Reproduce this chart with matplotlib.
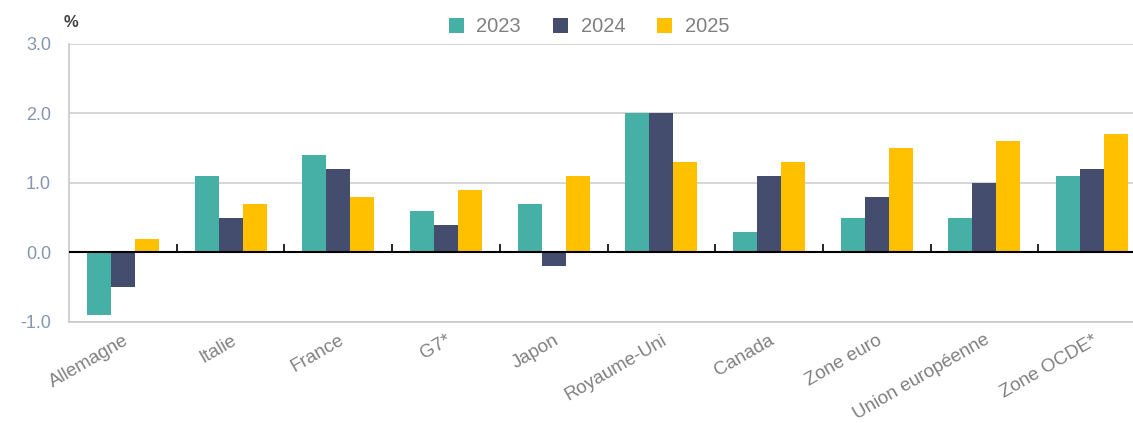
import numpy as np
import matplotlib
matplotlib.use("Agg")
import matplotlib.pyplot as plt

plt.rcParams["font.family"] = ["Liberation Sans", "DejaVu Sans"]

CATEGORIES = ["Allemagne", "Italie", "France", "G7*", "Japon", "Royaume-Uni",
              "Canada", "Zone euro", "Union européenne", "Zone OCDE*"]
YEARS = ["2023", "2024", "2025"]
V2023 = [-0.9, 1.1, 1.4, 0.6, 0.7, 2.0, 0.3, 0.5, 0.5, 1.1]
V2024 = [-0.5, 0.5, 1.2, 0.4, -0.2, 2.0, 1.1, 0.8, 1.0, 1.2]
V2025 = [0.2, 0.7, 0.8, 0.9, 1.1, 1.3, 1.3, 1.5, 1.6, 1.7]
COLOURS = ["#46AFA6", "#444D6E", "#FFC000"]

GREY = "#808080"
TICK_BLUE = "#8497B0"

fig = plt.figure(figsize=(11.33, 4.23), dpi=100)
ax = fig.add_axes([0.061, 0.239, 0.939, 0.657])

x = np.arange(len(CATEGORIES))
w = 0.223
for i, (vals, yr, col) in enumerate(zip([V2023, V2024, V2025], YEARS, COLOURS)):
    ax.bar(x + (i - 1) * w, vals, width=w, color=col, label=yr, zorder=3)

ax.set_ylim(-1.0, 3.0)
ax.set_xlim(-0.5, 9.38)
yt = [-1.0, 0.0, 1.0, 2.0, 3.0]
ax.set_yticks(yt)
ax.set_yticklabels([f"{v:.1f}" for v in yt], color=TICK_BLUE, fontsize=13)
ax.tick_params(axis="y", length=0, pad=13)
ax.grid(axis="y", color="#D0D0D0", lw=1.2, zorder=0)

ax.set_xticks(x)
ax.set_xticklabels(CATEGORIES, rotation=30, ha="right", va="top",
                   rotation_mode="anchor", color=GREY, fontsize=13.5)
ax.tick_params(axis="x", length=0, pad=7)

for side in ["top", "right"]:
    ax.spines[side].set_visible(False)
for side in ["left", "bottom"]:
    ax.spines[side].set_color("#C8C8C8")
    ax.spines[side].set_linewidth(1.2)

# zero line with category separator ticks pointing up
ax.axhline(0, color="black", lw=1.5, zorder=4)
sec = ax.secondary_xaxis(0.25)
sec.set_xticks(np.arange(len(CATEGORIES)) + 0.5)
sec.set_xticklabels([])
sec.tick_params(direction="in", length=6, width=1.2, color="black")
sec.spines["bottom"].set_visible(False)

fig.text(0.056, 0.935, "%", fontsize=12, color="#404040", fontweight="bold")

leg = fig.legend(loc="center", bbox_to_anchor=(0.52, 0.937), ncol=3, frameon=False,
                 fontsize=14.5, handlelength=0.75, handleheight=0.75,
                 columnspacing=1.6, handletextpad=0.6)
for t in leg.get_texts():
    t.set_color(GREY)

fig.savefig("out.png", dpi=100)
